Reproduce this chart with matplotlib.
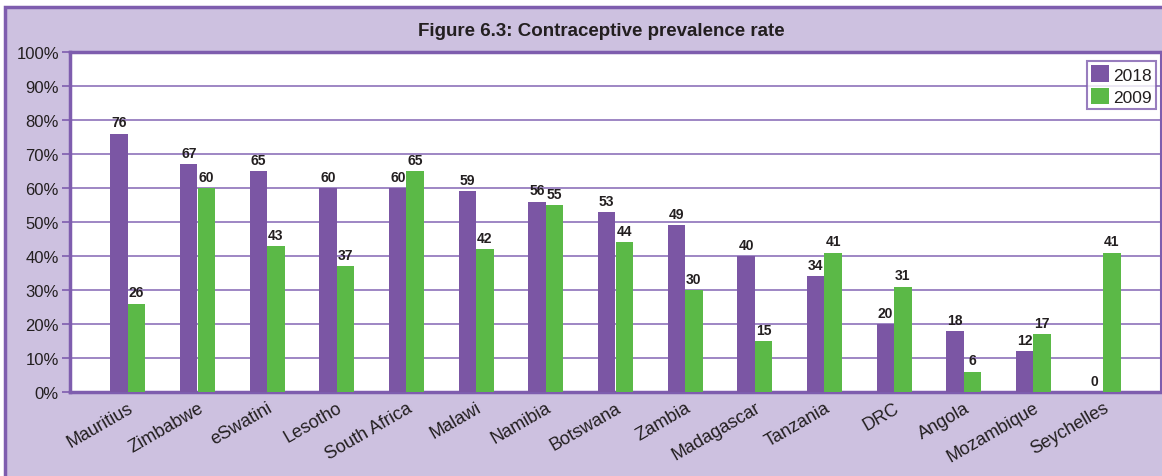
import matplotlib
matplotlib.use("Agg")
import matplotlib.pyplot as plt
from matplotlib.patches import Rectangle
from matplotlib.font_manager import fontManager
import numpy as np

countries = ["Mauritius", "Zimbabwe", "eSwatini", "Lesotho", "South Africa", "Malawi",
             "Namibia", "Botswana", "Zambia", "Madagascar", "Tanzania", "DRC", "Angola",
             "Mozambique", "Seychelles"]
vals_2018 = [76, 67, 65, 60, 60, 59, 56, 53, 49, 40, 34, 20, 18, 12, 0]
vals_2009 = [26, 60, 43, 37, 65, 42, 55, 44, 30, 15, 41, 31, 6, 17, 41]
yticks = [0, 10, 20, 30, 40, 50, 60, 70, 80, 90, 100]

PURPLE = "#7B56A4"
GREEN = "#5BB947"
LILAC = "#CDC1E0"
EDGE = "#7E5DAE"
GRID = "#8E72BA"
TXT = "#231F20"

names = {f.name for f in fontManager.ttflist}
narrow = "Liberation Sans Narrow" if "Liberation Sans Narrow" in names else "Liberation Sans"
is_narrow = narrow == "Liberation Sans Narrow"
plt.rcParams['font.family'] = ["Liberation Sans", "DejaVu Sans"]

W, H = 1162, 477
fig = plt.figure(figsize=(W / 100, H / 100), dpi=100)
fig.patch.set_facecolor("white")

# outer frame
frame = Rectangle((5 / W, -0.02), 1.0, 1.02 - 8 / H, transform=fig.transFigure,
                  facecolor=LILAC, edgecolor=EDGE, linewidth=2.5, zorder=-10)
fig.add_artist(frame)

L, R, T, B = 70, 1161, 53, 393
ax = fig.add_axes([L / W, 1 - B / H, (R - L) / W, (B - T) / H])
ax.set_zorder(1)
ax.set_facecolor("white")

x = np.arange(len(countries))
bw = 0.25
ax.bar(x - bw / 2, vals_2018, bw, color=PURPLE, label="2018", zorder=3)
ax.bar(x + bw / 2, vals_2009, bw, color=GREEN, label="2009", zorder=3)

pad = 23 / ((R - L - 46) / 15)
ax.set_xlim(-0.5 - pad, len(countries) - 0.5 + pad)
ax.set_ylim(0, 100)

lab_size = 11 if is_narrow else 10
for i, (a, b) in enumerate(zip(vals_2018, vals_2009)):
    ax.annotate(str(a), (x[i] - bw / 2, a), xytext=(0, 3), textcoords="offset points",
                ha="center", va="bottom", family=[narrow, "DejaVu Sans"], weight="bold",
                fontsize=lab_size, color=TXT, zorder=4)
    ax.annotate(str(b), (x[i] + bw / 2, b), xytext=(0, 3), textcoords="offset points",
                ha="center", va="bottom", family=[narrow, "DejaVu Sans"], weight="bold",
                fontsize=lab_size, color=TXT, zorder=4)

ax.set_yticks(yticks)
ax.set_yticklabels([f"{v}%" for v in yticks], fontsize=12, color=TXT)
ax.yaxis.grid(True, color=GRID, linewidth=1.2, zorder=1)
ax.set_axisbelow(True)
ax.tick_params(axis="y", length=6, width=1.2, color=EDGE, pad=2)
ax.tick_params(axis="x", length=0, pad=5)
ax.set_xticks(x)
ax.set_xticklabels(countries, rotation=30, ha="right", rotation_mode="anchor",
                   fontsize=13, color=TXT)

for side in ["top", "left", "bottom"]:
    ax.spines[side].set_color(EDGE)
    ax.spines[side].set_linewidth(2.5)
ax.spines["right"].set_color(EDGE)
ax.spines["right"].set_linewidth(1.5)

leg = ax.legend(loc="upper right", bbox_to_anchor=(1 - 5 / (R - L), 1 - 9 / (B - T)),
                fontsize=12.5, frameon=True, fancybox=False, borderpad=0.25,
                handlelength=1.0, handleheight=1.1, handletextpad=0.25, labelspacing=0.3,
                borderaxespad=0)
leg.get_frame().set_edgecolor(EDGE)
leg.get_frame().set_linewidth(1.5)
for t in leg.get_texts():
    t.set_color(TXT)

fig.text(601 / W, 1 - 32 / H, "Figure 6.3: Contraceptive prevalence rate",
         ha="center", va="center", fontsize=15.5 if is_narrow else 13.5, fontweight="bold",
         family=[narrow, "DejaVu Sans"], color=TXT)

fig.savefig("out.png", dpi=100, facecolor=fig.get_facecolor())
